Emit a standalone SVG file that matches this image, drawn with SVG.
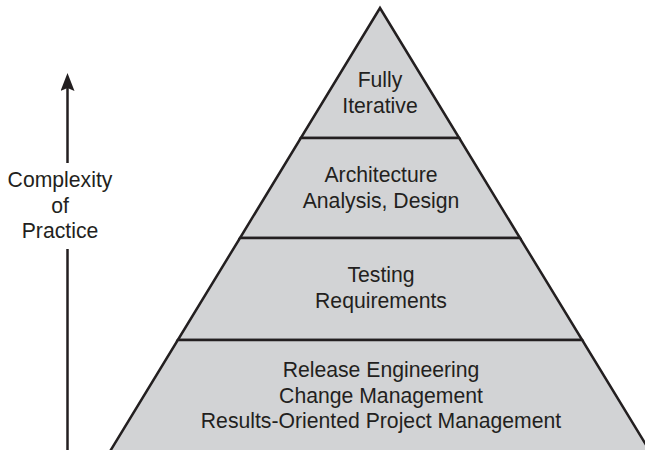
<svg xmlns="http://www.w3.org/2000/svg" width="645" height="450" viewBox="0 0 645 450">
  <style>
    .tier { fill: #d2d3d5; stroke: #231f20; stroke-width: 2.5; stroke-linejoin: miter; }
    .lbl { font-family: "Liberation Sans", Arial, Helvetica, sans-serif; font-size: 21.2px; fill: #231f20; text-anchor: middle; }
    .axis { stroke: #231f20; stroke-width: 2.5; fill: none; }
  </style>
  <defs>
    <marker id="arrowhead" viewBox="0 0 18 14" refX="6" refY="7" markerWidth="18" markerHeight="14" markerUnits="userSpaceOnUse" orient="auto">
      <path d="M18 7 L0 0 L3 7 L0 14 Z" fill="#231f20"/>
    </marker>
  </defs>
  <rect width="645" height="450" fill="#ffffff"/>

  <g id="tier-fully-iterative">
    <polygon class="tier" points="380,8 459.2,138 300.8,138"/>
    <text class="lbl" x="380" y="87">Fully</text>
    <text class="lbl" x="380" y="113">Iterative</text>
  </g>
  <g id="tier-architecture">
    <polygon class="tier" points="300.8,138 459.2,138 520,238 240,238"/>
    <text class="lbl" x="381" y="182">Architecture</text>
    <text class="lbl" x="381" y="208">Analysis, Design</text>
  </g>
  <g id="tier-testing">
    <polygon class="tier" points="240,238 520,238 582.2,340 177.8,340"/>
    <text class="lbl" x="381" y="282">Testing</text>
    <text class="lbl" x="381" y="308">Requirements</text>
  </g>
  <g id="tier-release">
    <polygon class="tier" points="177.8,340 582.2,340 651,453 109,453"/>
    <text class="lbl" x="381" y="377">Release Engineering</text>
    <text class="lbl" x="381" y="403">Change Management</text>
    <text class="lbl" x="381" y="428">Results-Oriented Project Management</text>
  </g>

  <g id="connectors">
    <line class="axis" x1="67.5" y1="163" x2="67.5" y2="85" marker-end="url(#arrowhead)"/>
    <line class="axis" x1="67.5" y1="249" x2="67.5" y2="450"/>
  </g>
  <g id="axis-label">
    <text class="lbl" x="60" y="187">Complexity</text>
    <text class="lbl" x="60" y="212.5">of</text>
    <text class="lbl" x="60" y="238">Practice</text>
  </g>
</svg>
